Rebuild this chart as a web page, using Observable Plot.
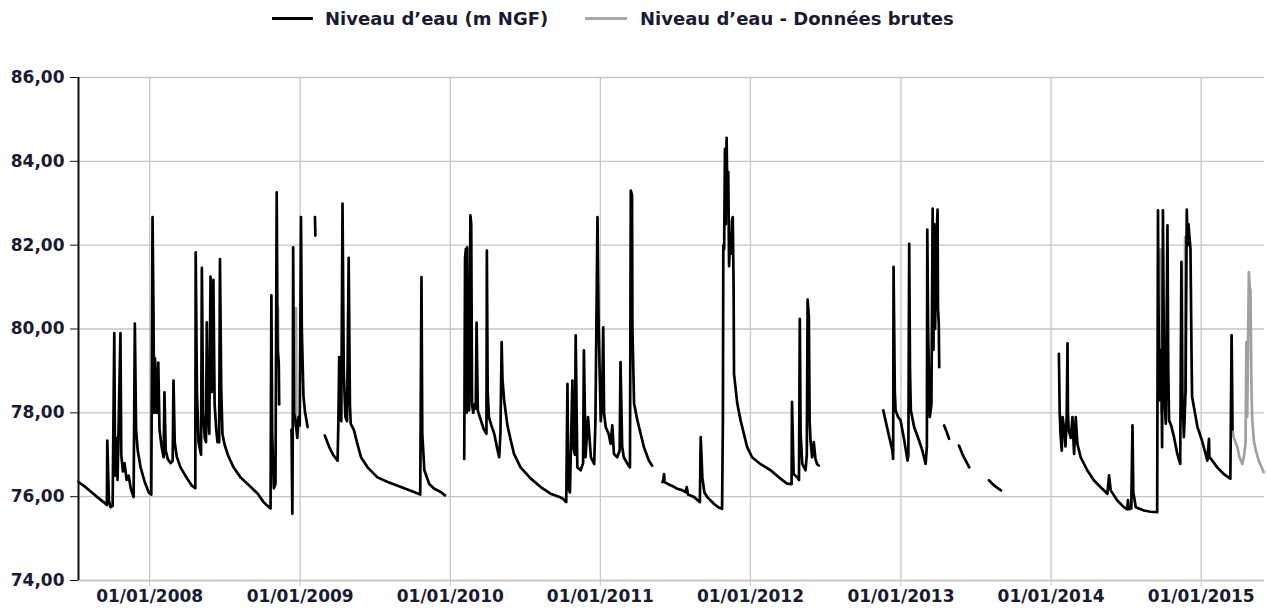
<!DOCTYPE html>
<html>
<head>
<meta charset="utf-8">
<script src="https://cdn.jsdelivr.net/npm/d3@7"></script>
<script src="https://cdn.jsdelivr.net/npm/@observablehq/plot@0.6"></script>
<style>
  html, body { margin: 0; padding: 0; background: #fff; }
  #legend { position: relative; width: 1267px; height: 40px; font: bold 18px "DejaVu Sans", sans-serif; color: #1a1a30; }
  #legend .sw { position: absolute; top: 17px; height: 3px; }
  #legend .lbl { position: absolute; top: 9px; line-height: 20px; white-space: nowrap; }
</style>
</head>
<body>
<div id="legend">
  <span class="sw" style="left:272px;width:41px;background:#000"></span>
  <span class="lbl" style="left:325px">Niveau d’eau (m NGF)</span>
  <span class="sw" style="left:585px;width:42px;background:#a8a8a8"></span>
  <span class="lbl" style="left:640px">Niveau d’eau - Données brutes</span>
</div>
<div id="chart"></div>
<script>
const xDomain = ["2007-07-12", "2015-06-04"];
const yDomain = [74, 86];
const yTicks = [74, 76, 78, 80, 82, 84, 86];
const xTicks = ["2008-01-01","2009-01-01","2010-01-01","2011-01-01","2012-01-01","2013-01-01","2014-01-01","2015-01-01"];

// Niveau d'eau (m NGF) — null = gap in the record
const mainDates = [
 "2007-07-12","2007-07-30","2007-08-23","2007-09-11","2007-09-19","2007-09-20","2007-09-24","2007-09-28","2007-10-03","2007-10-07",
 "2007-10-09","2007-10-13","2007-10-15","2007-10-22","2007-10-24","2007-10-28","2007-11-01","2007-11-06","2007-11-11","2007-11-16",
 "2007-11-23","2007-11-26","2007-11-29","2007-12-03","2007-12-10","2007-12-20","2007-12-30","2008-01-05","2008-01-08","2008-01-10",
 "2008-01-12","2008-01-14","2008-01-18","2008-01-22","2008-01-25","2008-01-30","2008-02-04","2008-02-06","2008-02-09","2008-02-14",
 "2008-02-21","2008-02-26","2008-02-28","2008-03-02","2008-03-07","2008-03-16","2008-03-31","2008-04-12","2008-04-21","2008-04-22",
 "2008-04-25","2008-04-29","2008-05-05","2008-05-07","2008-05-10","2008-05-14","2008-05-17","2008-05-19","2008-05-21","2008-05-25",
 "2008-05-28","2008-05-31","2008-06-04","2008-06-07","2008-06-11","2008-06-14","2008-06-18","2008-06-20","2008-06-23","2008-06-26",
 "2008-07-01","2008-07-09","2008-07-23","2008-08-09","2008-09-03","2008-09-20","2008-10-04","2008-10-16","2008-10-21","2008-10-23",
 "2008-10-25","2008-10-29","2008-11-02","2008-11-05","2008-11-07","2008-11-10","2008-11-11","2008-11-11",
 "2008-12-11","2008-12-13","2008-12-14","2008-12-15","2008-12-17","2008-12-21","2008-12-25","2008-12-28","2008-12-31","2009-01-03",
 "2009-01-05","2009-01-09","2009-01-13","2009-01-15","2009-01-19","2009-01-19",
 "2009-02-06","2009-02-07","2009-02-07",
 "2009-03-02","2009-03-12","2009-03-22","2009-04-02","2009-04-04","2009-04-06","2009-04-08","2009-04-11","2009-04-14","2009-04-17",
 "2009-04-21","2009-04-25","2009-04-29","2009-05-02","2009-05-04","2009-05-12","2009-05-19","2009-05-29","2009-06-14","2009-07-08",
 "2009-08-02","2009-09-03","2009-10-05","2009-10-20","2009-10-23","2009-10-25","2009-10-30","2009-11-11","2009-11-23","2009-12-09",
 "2009-12-19","2009-12-19",
 "2010-02-04","2010-02-06","2010-02-08","2010-02-10","2010-02-11","2010-02-13","2010-02-16","2010-02-19","2010-02-21","2010-02-23",
 "2010-02-26","2010-02-28","2010-03-04","2010-03-06","2010-03-09","2010-03-14","2010-03-23","2010-03-30","2010-03-31","2010-04-02",
 "2010-04-05","2010-04-11","2010-04-18","2010-04-24","2010-04-30","2010-05-03","2010-05-06","2010-05-08","2010-05-12","2010-05-20",
 "2010-05-28","2010-06-05","2010-06-21","2010-07-16","2010-08-09","2010-09-02","2010-09-22","2010-10-02","2010-10-10","2010-10-13",
 "2010-10-15","2010-10-19","2010-10-25","2010-10-27","2010-10-31","2010-11-02","2010-11-06","2010-11-14","2010-11-20","2010-11-22",
 "2010-11-26","2010-12-02","2010-12-09","2010-12-17","2010-12-20","2010-12-25","2010-12-28","2011-01-02","2011-01-05","2011-01-08",
 "2011-01-10","2011-01-14","2011-01-21","2011-01-26","2011-01-30","2011-02-03","2011-02-11","2011-02-17","2011-02-19","2011-02-23",
 "2011-02-27","2011-03-08","2011-03-14","2011-03-16","2011-03-19","2011-03-20","2011-03-24","2011-04-01","2011-04-09","2011-04-17",
 "2011-04-29","2011-05-07","2011-05-07",
 "2011-06-01","2011-06-03","2011-06-05","2011-06-06","2011-06-13","2011-06-26","2011-07-07","2011-07-20","2011-07-27","2011-07-30",
 "2011-08-02","2011-08-17","2011-08-25","2011-08-31","2011-09-02","2011-09-06","2011-09-11","2011-09-18","2011-10-04","2011-10-16",
 "2011-10-24","2011-10-26","2011-10-27","2011-10-29","2011-10-31","2011-11-02","2011-11-04","2011-11-06","2011-11-08","2011-11-10",
 "2011-11-13","2011-11-15","2011-11-17","2011-11-19","2011-11-21","2011-11-22","2011-11-30","2011-12-08","2011-12-16","2011-12-24",
 "2012-01-05","2012-01-25","2012-02-19","2012-03-14","2012-03-30","2012-04-10","2012-04-11","2012-04-15","2012-04-24","2012-04-28",
 "2012-04-30","2012-05-02","2012-05-06","2012-05-14","2012-05-17","2012-05-19","2012-05-22","2012-05-24","2012-05-26","2012-05-30",
 "2012-06-03","2012-06-07","2012-06-11","2012-06-15","2012-06-15",
 "2012-11-19","2012-11-28","2012-12-04","2012-12-11","2012-12-13","2012-12-14","2012-12-17","2012-12-19","2012-12-25","2012-12-31",
 "2013-01-09","2013-01-17","2013-01-19","2013-01-21","2013-01-23","2013-01-25","2013-02-02","2013-02-14","2013-02-22","2013-03-02",
 "2013-03-05","2013-03-06","2013-03-08","2013-03-12","2013-03-16","2013-03-19","2013-03-21","2013-03-23","2013-03-25","2013-03-28",
 "2013-03-31","2013-04-01","2013-04-03","2013-04-04","2013-04-04",
 "2013-04-16","2013-04-22","2013-04-28","2013-04-28",
 "2013-05-22","2013-05-31","2013-06-08","2013-06-16","2013-06-16",
 "2013-08-03","2013-08-12","2013-08-22","2013-09-01","2013-09-01",
 "2014-01-20","2014-01-22","2014-01-24","2014-01-27","2014-01-29","2014-02-02","2014-02-05","2014-02-08","2014-02-10","2014-02-11",
 "2014-02-13","2014-02-18","2014-02-22","2014-02-26","2014-03-02","2014-03-06","2014-03-14","2014-03-30","2014-04-15","2014-05-01",
 "2014-05-18","2014-05-22","2014-05-26","2014-06-11","2014-06-27","2014-07-05","2014-07-07","2014-07-09","2014-07-15","2014-07-18",
 "2014-07-20","2014-07-26","2014-08-15","2014-08-31","2014-09-16","2014-09-18","2014-09-19","2014-09-22","2014-09-26","2014-09-28",
 "2014-09-30","2014-10-03","2014-10-07","2014-10-11","2014-10-13","2014-10-15","2014-10-20","2014-10-27","2014-11-04","2014-11-11",
 "2014-11-14","2014-11-16","2014-11-20","2014-11-24","2014-11-27","2014-11-29","2014-12-01","2014-12-06","2014-12-09","2014-12-10",
 "2014-12-23","2015-01-03","2015-01-16","2015-01-20","2015-01-21","2015-01-28","2015-02-09","2015-02-25","2015-03-13","2015-03-16",
 "2015-03-18"
];
const mainLevels = [
 76.35,76.22,76.02,75.87,75.80,77.34,75.90,75.75,75.78,79.90,
 76.50,77.40,76.40,79.90,77.00,76.60,76.80,76.40,76.50,76.20,
 75.99,80.13,77.60,77.10,76.70,76.35,76.10,76.05,82.67,80.80,
 78.00,79.30,78.00,79.20,77.60,77.20,76.94,78.49,77.10,76.90,
 76.80,76.85,78.77,77.30,76.95,76.70,76.45,76.27,76.20,81.83,
 78.50,77.30,77.00,81.46,78.00,77.40,77.30,80.16,78.20,77.50,
 81.25,78.50,81.17,78.20,77.60,77.30,77.30,81.67,78.60,77.50,
 77.25,77.00,76.70,76.46,76.23,76.07,75.87,75.76,75.72,80.80,
 77.50,76.20,76.30,83.26,79.50,79.20,78.20,null,
 77.60,75.59,77.50,81.95,78.00,77.80,77.40,77.90,77.70,82.67,
 80.00,78.40,78.00,77.90,77.66,null,
 82.67,82.23,null,
 77.46,77.20,77.00,76.86,77.80,79.33,77.90,77.80,82.99,79.00,
 77.90,77.80,81.70,78.20,77.74,77.58,77.30,76.94,76.70,76.46,
 76.35,76.23,76.11,76.05,81.24,77.50,76.63,76.30,76.19,76.11,
 76.03,null,
 76.90,81.70,81.91,78.00,81.95,78.30,78.06,82.71,82.50,78.20,
 78.00,78.20,78.10,80.15,78.06,77.90,77.62,77.50,81.87,78.50,
 77.90,77.70,77.50,77.20,76.94,77.50,79.69,78.80,78.30,77.70,
 77.35,77.02,76.70,76.43,76.23,76.07,76.00,75.95,75.87,78.69,
 76.20,76.10,78.77,77.20,77.00,79.85,76.70,76.63,76.80,79.49,
 76.94,77.90,76.94,76.78,77.80,82.67,80.00,77.80,78.20,80.04,
 78.00,77.66,77.50,77.26,77.70,77.02,76.94,77.10,79.21,77.20,
 76.94,76.78,76.70,83.30,83.20,80.00,78.22,77.82,77.50,77.18,
 76.86,76.74,null,
 76.35,76.40,76.54,76.35,76.31,76.25,76.19,76.15,76.11,76.23,
 76.05,75.99,75.92,75.87,77.42,76.46,76.10,75.99,75.83,75.74,
 75.71,77.86,81.99,81.90,84.30,82.50,84.56,83.00,83.75,81.50,
 82.30,81.80,82.60,82.67,81.00,78.93,78.22,77.82,77.50,77.18,
 76.94,76.78,76.63,76.43,76.31,76.30,78.26,76.54,76.46,76.40,
 80.24,77.50,76.78,76.63,77.00,80.70,80.30,77.80,77.34,76.94,
 77.30,76.90,76.78,76.74,null,
 78.06,77.66,77.40,77.10,76.90,81.48,78.50,78.06,77.90,77.82,
 77.34,76.86,77.00,82.03,79.00,78.06,77.66,77.34,77.10,76.78,
 77.20,82.37,80.00,77.90,78.20,82.87,79.50,82.50,80.00,82.00,
 82.85,80.52,80.10,79.09,null,
 77.70,77.55,77.38,null,
 77.22,77.00,76.85,76.70,null,
 76.39,76.30,76.22,76.15,null,
 79.41,78.00,77.50,77.10,77.90,77.60,77.20,77.90,79.66,78.00,
 77.58,77.40,77.90,77.02,77.90,77.26,76.94,76.63,76.39,76.23,
 76.07,76.51,76.15,75.91,75.75,75.70,75.92,75.70,75.72,77.70,
 76.10,75.75,75.67,75.64,75.63,82.83,80.70,78.30,79.50,77.18,
 82.83,78.50,77.74,82.47,79.00,77.82,77.70,77.42,77.02,76.78,
 81.60,78.50,77.42,78.50,82.85,82.00,82.50,81.91,79.00,78.38,
 77.66,77.34,76.86,77.38,76.95,76.86,76.70,76.54,76.43,79.85,
 77.60
];

// Niveau d'eau - Données brutes (visible where it differs from / extends the validated series)
const rawDates = [
 "2008-11-08","2008-11-09","2008-11-09",
 "2008-12-20","2008-12-22","2008-12-23","2008-12-23",
 "2014-09-23","2014-09-24","2014-09-26","2014-09-26",
 "2014-11-21","2014-11-23","2014-11-25","2014-11-25",
 "2015-03-16","2015-03-18","2015-03-21","2015-03-30","2015-04-04","2015-04-11","2015-04-15","2015-04-19","2015-04-21","2015-04-23",
 "2015-04-25","2015-04-27","2015-04-29","2015-05-01","2015-05-03","2015-05-05","2015-05-09","2015-05-14","2015-05-21","2015-05-28",
 "2015-06-02"
];
const rawLevels = [
 80.50,79.30,null,
 77.70,80.50,77.60,null,
 78.30,81.90,78.00,null,
 77.80,82.20,78.50,null,
 79.85,77.60,77.42,77.18,76.95,76.78,76.95,77.30,79.69,77.90,
 79.70,81.36,81.00,80.92,78.80,77.86,77.34,77.10,76.86,76.70,
 76.58
];

const mainData = mainDates.map((d, i) => ({date: new Date(d), level: mainLevels[i]}));
const rawData = rawDates.map((d, i) => ({date: new Date(d), level: rawLevels[i]}));
const gridColor = "#c6c6c6";
const textColor = "#1a1a30";
const fmtY = d => d.toFixed(2).replace(".", ",");

const chart = Plot.plot({
  width: 1267,
  height: 568,
  marginLeft: 78,
  marginRight: 3,
  marginTop: 37,
  marginBottom: 28,
  style: {fontFamily: "'DejaVu Sans', sans-serif", fontWeight: "bold", fontSize: "17px", background: "#fff", color: textColor},
  x: {type: "utc", domain: xDomain.map(d => new Date(d)), label: null},
  y: {domain: yDomain, label: null},
  marks: [
    Plot.gridY(yTicks, {stroke: gridColor, strokeOpacity: 1, strokeWidth: 1.3}),
    Plot.gridX(xTicks.map(d => new Date(d)), {stroke: gridColor, strokeOpacity: 1, strokeWidth: 1.3}),
    Plot.ruleY([yDomain[0]], {stroke: gridColor, strokeWidth: 1.3}),
    Plot.axisX(xTicks.map(d => new Date(d)), {tickFormat: d3.utcFormat("%d/%m/%Y"), tickSize: 6, tickPadding: 3, stroke: gridColor, fill: textColor, label: null, fontSize: 17, fontWeight: "bold"}),
    Plot.axisY(yTicks, {tickFormat: fmtY, tickSize: 8, tickPadding: 6, stroke: "#111", fill: textColor, label: null, fontSize: 17, fontWeight: "bold"}),
    Plot.ruleX([new Date(xDomain[0])], {stroke: "#111", strokeWidth: 2}),
    Plot.line(rawData, {x: "date", y: "level", stroke: "#a0a0a0", strokeWidth: 2.7}),
    Plot.line(mainData, {x: "date", y: "level", stroke: "#000", strokeWidth: 2.7})
  ]
});
document.getElementById("chart").appendChild(chart);
</script>
</body>
</html>
